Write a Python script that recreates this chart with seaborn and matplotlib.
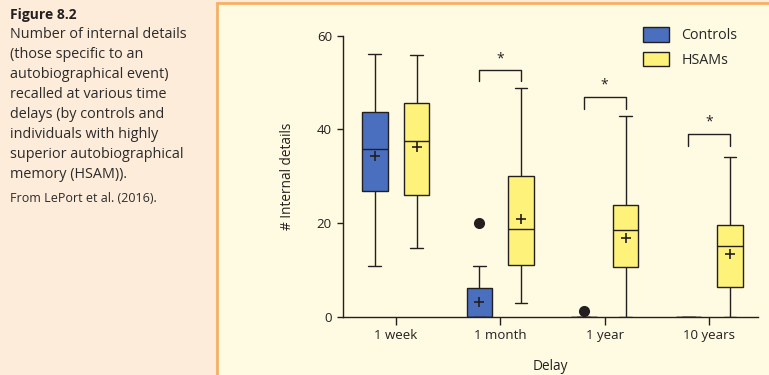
import numpy as np
import pandas as pd
import matplotlib.pyplot as plt
import matplotlib.patches as mpatches
import seaborn as sns

# ------------------------------------------------------------
# Data (box summaries per delay / group)
# ------------------------------------------------------------
delays = ["1 week", "1 month", "1 year", "10 years"]
groups = ["Controls", "HSAMs"]

ctrl_low = [10.8, 0.0, 0.0, 0.0]
ctrl_q1 = [26.9, 0.0, 0.0, 0.0]
ctrl_med = [35.9, 0.0, 0.0, 0.0]
ctrl_q3 = [43.8, 6.1, 0.0, 0.0]
ctrl_high = [56.2, 10.8, 0.0, 0.0]
ctrl_mean = [34.4, 3.2, np.nan, np.nan]
ctrl_outliers = [[], [20.0], [1.1], []]

hsam_low = [14.7, 2.9, 0.0, 0.0]
hsam_q1 = [26.0, 11.1, 10.6, 6.4]
hsam_med = [37.6, 18.8, 18.4, 15.1]
hsam_q3 = [45.7, 30.1, 23.9, 19.5]
hsam_high = [56.0, 48.9, 42.9, 34.0]
hsam_mean = [36.2, 20.9, 16.8, 13.4]
hsam_outliers = [[], [], [], []]

# significance brackets
sig_delays = ["1 month", "1 year", "10 years"]
sig_top = [52.8, 47.0, 39.1]
sig_leg = [50.3, 44.4, 36.5]
sig_star = [55.0, 49.6, 41.5]

caption_title = "Figure 8.2"
caption_lines = [
    "Number of internal details",
    "(those specific to an",
    "autobiographical event)",
    "recalled at various time",
    "delays (by controls and",
    "individuals with highly",
    "superior autobiographical",
    "memory (HSAM)).",
]
caption_source = "From LePort et al. (2016)."

# colours
PEACH = "#fdecda"
PANEL = "#fffbe2"
ORANGE = "#f5b066"
BLUE = "#4a6fbf"
YELLOW = "#fff27a"
INK = "#231f20"


def box_sample(lo, q1, med, q3, hi, out):
    # nine values whose quartiles / whiskers reproduce the drawn box
    vals = [lo, q1, q1, med, med, q3, q3, hi] + list(out)
    while len(vals) < 9:
        vals.append(hi)
    return vals


rows = []
for i, d in enumerate(delays):
    for v in box_sample(ctrl_low[i], ctrl_q1[i], ctrl_med[i], ctrl_q3[i], ctrl_high[i], ctrl_outliers[i]):
        rows.append((d, "Controls", v))
    for v in box_sample(hsam_low[i], hsam_q1[i], hsam_med[i], hsam_q3[i], hsam_high[i], hsam_outliers[i]):
        rows.append((d, "HSAMs", v))
df = pd.DataFrame(rows, columns=["delay", "group", "details"])

# ------------------------------------------------------------
# Figure
# ------------------------------------------------------------
sns.set_style("ticks")
plt.rcParams["font.family"] = ["Open Sans", "DejaVu Sans"]

fig = plt.figure(figsize=(7.69, 3.75), dpi=100)
fig.patch.set_facecolor(PEACH)

# panel behind the chart
panel = mpatches.Rectangle((216.5 / 769, -0.05), 1.0, (372.5 / 375) + 0.05,
                           transform=fig.transFigure, facecolor=PANEL,
                           edgecolor=ORANGE, linewidth=2, zorder=-5)
fig.patches.append(panel)

# caption
fig.text(10 / 769, 1 - 15 / 375, caption_title, fontsize=10, fontweight="bold",
         color=INK, va="center", ha="left")
for k, line in enumerate(caption_lines):
    fig.text(10 / 769, 1 - (34.5 + 20 * k) / 375, line, fontsize=10.4,
             color="#2b2b2b", va="center", ha="left")
fig.text(10 / 769, 1 - 199 / 375, caption_source, fontsize=9,
         color="#2b2b2b", va="center", ha="left")

ax = fig.add_axes([343 / 769, 58.5 / 375, 415 / 769, 297 / 375])
ax.set_zorder(2)
ax.set_facecolor("none")

line_kw = dict(color=INK, linewidth=1)
sns.boxplot(
    data=df, x="delay", y="details", hue="group", order=delays, hue_order=groups,
    palette=[BLUE, YELLOW], saturation=1, width=0.8, gap=0.39, linecolor=INK,
    linewidth=1, whis=1.5, fliersize=7,
    flierprops=dict(marker="o", markerfacecolor=INK, markeredgecolor=INK),
    medianprops=line_kw, whiskerprops=line_kw, capprops=line_kw,
    boxprops=dict(edgecolor=INK, linewidth=1),
    legend=False, ax=ax,
)

# means as "+"
mean_df = pd.DataFrame({
    "pos": [i - 0.2 for i in range(len(delays))] + [i + 0.2 for i in range(len(delays))],
    "mean": ctrl_mean + hsam_mean,
}).dropna()
sns.scatterplot(data=mean_df, x="pos", y="mean", marker="+", s=55,
                color=INK, linewidth=1.2, legend=False, ax=ax, zorder=5)

# significance brackets
for d, top, leg, star in zip(sig_delays, sig_top, sig_leg, sig_star):
    i = delays.index(d)
    ax.plot([i - 0.2, i - 0.2, i + 0.2, i + 0.2], [leg, top, top, leg],
            color=INK, linewidth=1)
    ax.text(i, star, "*", ha="center", va="center", fontsize=10, color=INK)

ax.set_xlim(-0.504, 3.467)
ax.set_ylim(0, 63.5)
ax.set_yticks([0, 20, 40, 60])
ax.spines["top"].set_visible(False)
ax.spines["right"].set_visible(False)
ax.spines["left"].set_bounds(0, 60)
for s in ("left", "bottom"):
    ax.spines[s].set_color(INK)
    ax.spines[s].set_linewidth(1)
ax.tick_params(axis="y", length=4, width=1, pad=4, labelsize=9.5, colors=INK)
ax.tick_params(axis="x", length=6, width=1, pad=3, labelsize=9.5, colors=INK)

ax.set_xlabel("Delay", fontsize=9.8, color=INK, labelpad=12)
ax.set_ylabel("# Internal details", fontsize=9.8, color=INK)
ax.yaxis.set_label_coords(-0.115, 0.473)

handles = [mpatches.Patch(facecolor=BLUE, edgecolor=INK, linewidth=1),
           mpatches.Patch(facecolor=YELLOW, edgecolor=INK, linewidth=1)]
ax.legend(handles, groups, loc="upper left", bbox_to_anchor=(0.724, 0.975),
          frameon=False, fontsize=10.3, handlelength=1.8, handleheight=1.2,
          handletextpad=0.85, labelspacing=0.6, borderaxespad=0, borderpad=0)

fig.savefig("out.png", dpi=100, facecolor=fig.get_facecolor())
